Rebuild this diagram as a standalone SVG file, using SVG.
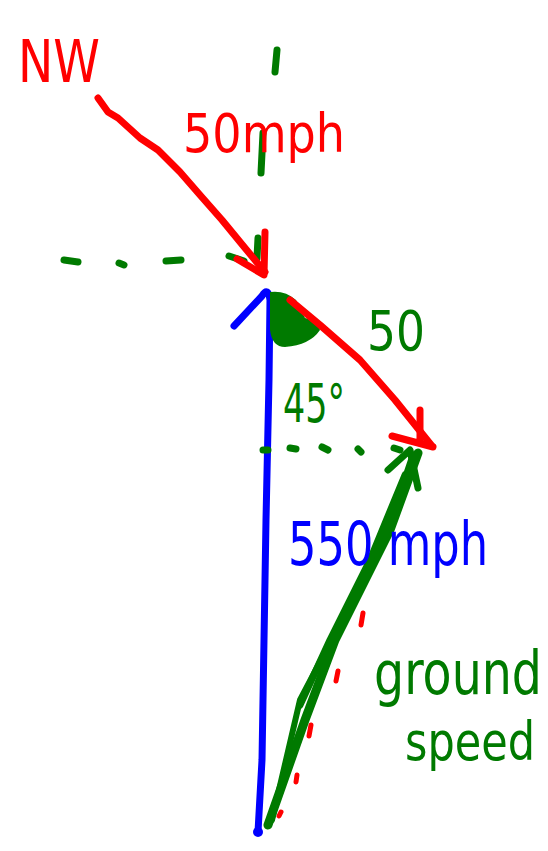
<svg xmlns="http://www.w3.org/2000/svg" width="548" height="851" viewBox="0 0 548 851">
<style>
.r{stroke:#ff0000;fill:none;stroke-width:7;stroke-linecap:round;stroke-linejoin:round}
.g{stroke:#007a00;fill:none;stroke-width:7;stroke-linecap:round;stroke-linejoin:round}
.b{stroke:#0000ff;fill:none;stroke-width:7;stroke-linecap:round;stroke-linejoin:round}
.t{font-family:"DejaVu Sans","Liberation Sans",sans-serif;}
</style>
<rect width="548" height="851" fill="#ffffff"/>
<g id="connectors">
  <!-- upper dashed horizontal -->
  <path class="g" d="M64 260 L78 262 M119 263 L124 265 M166 261 L181 260 M229 256 L244 261"/>
  <!-- vertical dashed -->
  <path class="g" d="M277 50 L275 72 M263 133 L261 173 M258 238 L257 258"/>
  <!-- wind arrow 1 -->
  <path class="r" d="M98 98 L108 112 L118 118 L140 138 L158 150 L180 172 L200 195 L222 220 L245 248 L265 272"/>
  <path class="r" d="M265 232 L264 275 L237 259"/>
  <!-- blue heading line -->
  <path class="b" d="M234 326 L262 296 Q268 286 270 300 L269 380 L266 520 L262 760 L258 832"/>
  <circle cx="258" cy="832" r="5" fill="#0000ff"/>
  <!-- green angle wedge -->
  <path d="M270 292 Q285 290 296 300 L305 318 Q318 320 320 330 Q310 345 285 347 Q272 347 270 330 Z" fill="#007a00"/>
  <!-- wind arrow 2 -->
  <path class="r" d="M290 300 L320 325 L360 360 L395 400 L432 446"/>
  <path class="r" d="M420 410 L420 441 M392 436 L433 447"/>
  <!-- lower dashed horizontal -->
  <path class="g" d="M263 450 L268 450 M290 448 L296 449 M322 447 L328 450 M358 449 L361 452 M394 448 L400 450"/>
  <!-- red dashed resultant hint -->
  <path class="r" d="M363 613 L361 625 M338 671 L336 681 M311 725 L309 736 M297 775 L296 782 M281 812 L279 816" style="stroke-width:5"/>
  <!-- ground speed -->
  <path class="g" d="M268 825 L305 720 L335 640 L390 530 L418 453" style="stroke-width:9"/>
  <path class="g" d="M272 820 L300 700 L342 620 L382 545 L412 457" style="stroke-width:6"/>
  <path class="g" d="M300 705 L330 640 L370 560 L405 475"/>
  <path class="g" d="M388 470 L410 450 L418 488"/>
</g>
<g id="labels">
  <text class="t" x="18" y="82" font-size="58" fill="#ff0000" textLength="82" lengthAdjust="spacingAndGlyphs">NW</text>
  <text class="t" x="183" y="152" font-size="54" fill="#ff0000" textLength="162" lengthAdjust="spacingAndGlyphs">50mph</text>
  <text class="t" x="367" y="350" font-size="56" fill="#007a00" textLength="58" lengthAdjust="spacingAndGlyphs">50</text>
  <text class="t" x="283" y="422" font-size="54" fill="#007a00" textLength="62" lengthAdjust="spacingAndGlyphs">45°</text>
  <text class="t" x="288" y="565" font-size="60" fill="#0000ff" textLength="200" lengthAdjust="spacingAndGlyphs">550 mph</text>
  <text class="t" x="374" y="694" font-size="60" fill="#007a00" textLength="168" lengthAdjust="spacingAndGlyphs">ground</text>
  <text class="t" x="405" y="760" font-size="54" fill="#007a00" textLength="130" lengthAdjust="spacingAndGlyphs">speed</text>
</g>
</svg>
